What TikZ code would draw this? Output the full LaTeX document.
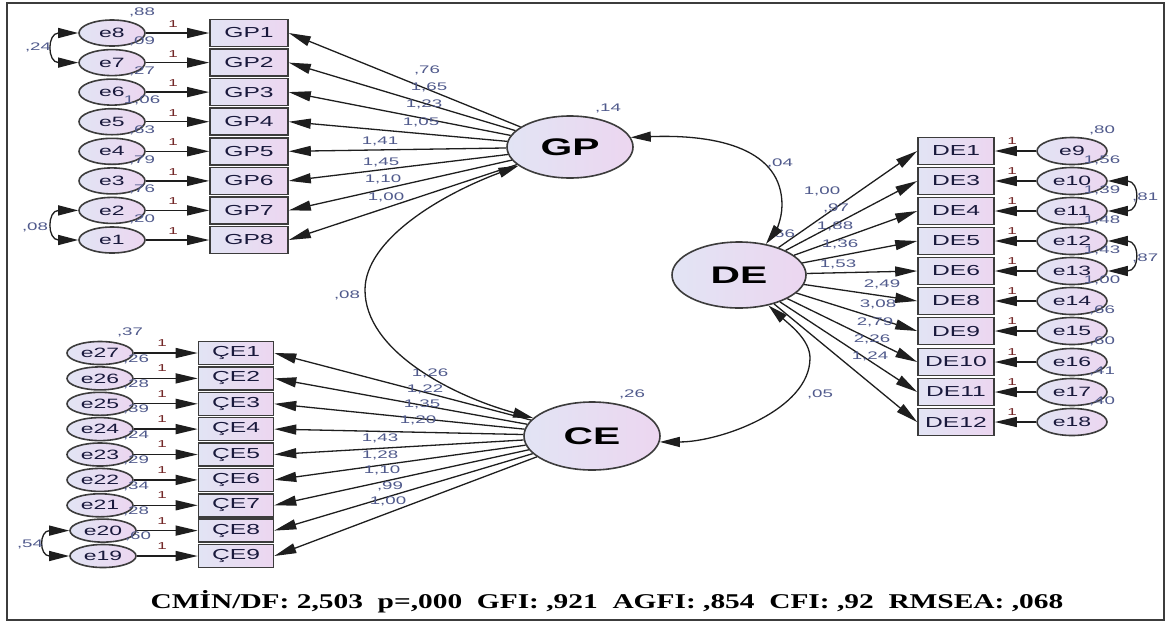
\documentclass[tikz,border=0pt]{standalone}
\usepackage{fontspec}
\usetikzlibrary{shapes.geometric,arrows.meta}
\newfontfamily\amosfont[FakeStretch=1.7]{Liberation Sans}
\newfontfamily\fitfont[FakeStretch=1.4]{Liberation Serif}
\definecolor{numc}{RGB}{80,90,140}
\definecolor{onec}{RGB}{115,40,40}
\definecolor{linec}{RGB}{30,30,30}
\definecolor{edgec}{RGB}{60,60,60}
\definecolor{txtc}{RGB}{25,25,60}
\definecolor{fillL}{RGB}{226,228,244}
\definecolor{fillR}{RGB}{236,214,240}
\tikzset{
  obs/.style={rectangle, draw=edgec, line width=1.6pt, left color=fillL, right color=fillR,
    minimum width=78pt, minimum height=27pt, inner sep=0pt,
    font=\amosfont\fontsize{14.5}{14.5}\selectfont, text=txtc},
  err/.style={ellipse, draw=edgec, line width=1.6pt, left color=fillL, right color=fillR,
    minimum width=66pt, minimum height=26pt, inner sep=0pt,
    font=\amosfont\fontsize{13.5}{13.5}\selectfont, text=txtc},
  lat/.style={ellipse, draw=edgec, line width=1.6pt, left color=fillL, right color=fillR,
    inner sep=0pt, font=\amosfont\bfseries\fontsize{24}{24}\selectfont, text=black},
  num/.style={font=\amosfont\fontsize{11}{11}\selectfont, text=numc, inner sep=0pt},
  one/.style={font=\amosfont\fontsize{10}{10}\selectfont, text=onec, inner sep=0pt},
  loadarr/.style={draw=linec, line width=1.3pt, -{Triangle[length=22pt,width=10pt]}},
  covarr/.style={draw=linec, line width=1.3pt, {Triangle[length=20pt,width=10pt]}-{Triangle[length=20pt,width=10pt]}},
}
\begin{document}
\begin{tikzpicture}[x=1pt,y=-1pt]
\useasboundingbox (0,0) rectangle (1168,625);
\fill[white] (0,0) rectangle (1168,625);
\draw[line width=2pt, edgec] (7,3) rectangle (1164,620);

% latent variables
\node[lat, minimum width=126pt, minimum height=62pt] (GP) at (570,147) {GP};
\node[lat, minimum width=134pt, minimum height=66pt] (DE) at (739,275) {DE};
\node[lat, minimum width=136pt, minimum height=68pt] (CE) at (592,436) {CE};
\node[num] at (608,108) {,14};
\node[num] at (782,234) {,66};
\node[num] at (632,394) {,26};

% ---------- GP block ----------
\foreach \n/\k/\y in {1/8/33,2/7/62.6,3/6/92.1,4/5/121.7,5/4/151.3,6/3/180.9,7/2/210.4,8/1/240}{
  \node[obs] (GP\n) at (249,\y) {GP\n};
  \node[err] (e\k) at (112,\y) {e\k};
  \draw[loadarr] (e\k) -- (GP\n);
  \node[one] at (173,\y-9) {1};
}
\foreach \n/\v/\x/\y in {1/{,76}/427/70,2/{1,65}/429/87,3/{1,23}/424/104,4/{1,05}/421/122,
                         5/{1,41}/380/141,6/{1,45}/381/162,7/{1,10}/383/179,8/{1,00}/386/197}{
  \draw[loadarr] (GP) -- (GP\n.east);
  \node[num] at (\x,\y) {\v};
}
\foreach \v/\y in {{,88}/12,{,09}/41.6,{,27}/71.1,{1,06}/100.7,{,63}/130.3,{,79}/159.9,{,76}/189.4,{,20}/219}{
  \node[num] at (142,\y) {\v};
}
\draw[covarr] (e8.west) .. controls (47,33) and (47,62.6) .. (e7.west);
\node[num] at (38,47) {,24};
\draw[covarr] (e2.west) .. controls (47,210.4) and (47,240) .. (e1.west);
\node[num] at (35,227) {,08};

% ---------- DE block ----------
\foreach \b/\k/\y in {1/9/151,3/10/181,4/11/211,5/12/241,6/13/271,8/14/301,9/15/331,10/16/362,11/17/392,12/18/422}{
  \node[obs, minimum width=76pt] (DE\b) at (956,\y) {DE\b};
  \node[err, minimum width=70pt, minimum height=27pt] (e\k) at (1072,\y) {e\k};
  \draw[loadarr] (e\k) -- (DE\b);
  \node[one] at (1012,\y-10) {1};
}
\foreach \b/\v/\x/\y in {1/{1,00}/822/191,3/{,97}/836/208,4/{1,88}/835/226,5/{1,36}/840/244,
                         6/{1,53}/838/264,8/{2,49}/882/284,9/{3,08}/878/304,10/{2,79}/875/322,
                         11/{2,26}/872/339,12/{1,24}/870/356}{
  \draw[loadarr] (DE) -- (DE\b.west);
  \node[num] at (\x,\y) {\v};
}
\foreach \v/\y in {{,80}/130,{1,56}/160,{1,39}/190,{1,48}/220,{1,43}/250,{1,00}/280,{,66}/310,{,60}/341,{,41}/371,{,40}/401}{
  \node[num] at (1102,\y) {\v};
}
\draw[covarr] (e10.east) .. controls (1140,181) and (1140,211) .. (e11.east);
\draw[covarr] (e12.east) .. controls (1140,241) and (1140,271) .. (e13.east);
\begin{scope}
  \clip (1100,150) rectangle (1157,290);
  \node[num, anchor=west] at (1132,197) {,81};
  \node[num, anchor=west] at (1132,258) {,87};
\end{scope}

% ---------- CE block ----------
\foreach \n/\k/\y/\ex in {1/27/353/100,2/26/378.4/100,3/25/403.8/100,4/24/429.1/100,5/23/454.5/100,
                          6/22/479.9/100,7/21/505.3/100,8/20/530.6/103,9/19/556/103}{
  \node[obs, minimum width=75pt, minimum height=23pt] (CE\n) at (236,\y) {ÇE\n};
  \node[err, minimum height=23pt] (e\k) at (\ex,\y) {e\k};
  \draw[loadarr] (e\k) -- (CE\n);
  \node[one] at (162,\y-10) {1};
}
\foreach \n/\v/\x/\y in {1/{1,26}/430/373,2/{1,22}/425/389,3/{1,35}/422/404,4/{1,20}/418/420,
                         5/{1,43}/380/438,6/{1,28}/380/455,7/{1,10}/382/470,8/{,99}/390/486,9/{1,00}/388/501}{
  \draw[loadarr] (CE) -- (CE\n.east);
  \node[num] at (\x,\y) {\v};
}
\foreach \v/\y/\x in {{,37}/332/130,{,26}/359/136,{,28}/384.4/136,{,39}/409.7/136,{,24}/435.1/136,
                      {,29}/460.5/136,{,34}/485.9/136,{,28}/511.2/136,{,60}/536.6/138}{
  \node[num] at (\x,\y) {\v};
}
\draw[covarr] (e20.west) .. controls (39,530.6) and (39,556) .. (e19.west);
\node[num] at (30,544) {,54};

% ---------- latent covariances ----------
\coordinate (gdA) at (782,205);
\draw[covarr] (GP.9) .. controls (720,134) and (782,150) .. (gdA)
              .. controls (782,220) and (775,232) .. (DE.49);
\node[num] at (780,163) {,04};
\coordinate (dcA) at (810,358);
\draw[covarr] (DE.-46) .. controls (790,325) and (810,340) .. (dcA)
              .. controls (810,410) and (720,442) .. (CE.-5);
\node[num] at (820,394) {,05};
\coordinate (gcA) at (365,290);
\draw[covarr] (GP.200) .. controls (440,195) and (365,240) .. (gcA)
              .. controls (365,350) and (450,395) .. (CE.163);
\node[num] at (347,295) {,08};

% ---------- fit indices ----------
\node[font=\fitfont\bfseries\fontsize{21}{21}\selectfont, text=black, inner sep=0pt] (fit) at (607,602)
  {CMİN/DF: 2,503\ \ p=,000\ \ GFI: ,921\ \ AGFI: ,854\ \ CFI: ,92\ \ RMSEA: ,068};
\end{tikzpicture}
\end{document}
